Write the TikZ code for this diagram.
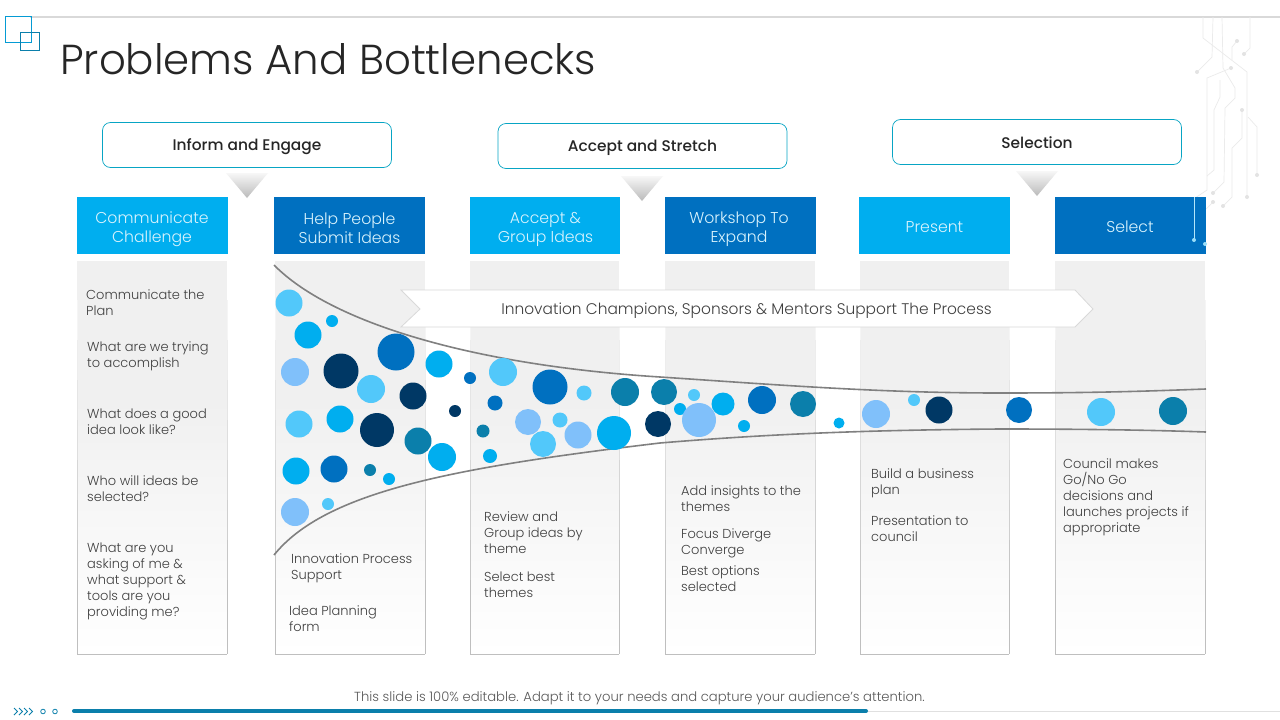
\documentclass[tikz,border=0pt]{standalone}
\usepackage{fontspec}
\setmainfont{Poppins}[UprightFont=* Light,BoldFont=* Medium]
\usetikzlibrary{shapes.geometric,shapes.arrows}
\definecolor{cyanA}{HTML}{00AEEF}
\definecolor{blueB}{HTML}{0070C0}
\definecolor{navy}{HTML}{003865}
\definecolor{teal}{HTML}{0B7FAB}
\definecolor{sky}{HTML}{52C8FA}
\definecolor{peri}{HTML}{80C0FA}
\definecolor{txt}{HTML}{404040}
\definecolor{wire}{HTML}{EBEBEB}
\definecolor{panelgrey}{HTML}{F0F0F0}
\newcommand\hsa{\rule{0pt}{20pt}}
\newcommand\hsb{\rule[-4pt]{0pt}{4pt}}
\tikzset{
 x=1pt,y=-1pt,
 head/.style={rectangle,minimum width=151pt,minimum height=57pt,inner sep=0pt},
 headtext/.style={inner sep=0pt,align=center,text=white!85!cyan,font=\fontsize{15.7}{19}\selectfont},
 pill/.style={draw=teal!70!cyan,line width=.7pt,rounded corners=8pt,fill=white,minimum width=289pt,minimum height=45pt,inner sep=0pt},
 pilltext/.style={inner sep=0pt,font=\bfseries\fontsize{15.4}{18}\selectfont,text=black!85},
 body/.style={align=left,anchor=north west,inner sep=0pt,yshift=-2.5pt,text=txt,font=\fontsize{13}{16}\selectfont},
 curve/.style={draw=black!50,line width=1.6pt},
 wireline/.style={draw=wire,line width=.7pt},
}
\begin{document}
\begin{tikzpicture}
\useasboundingbox (0,0) rectangle (1280,720);
\fill[white] (0,0) rectangle (1280,720);
% top rule
\draw[black!15,line width=1.4pt] (30,17) -- (1280,17);
% logo
\draw[cyanA!60!teal,line width=1pt] (5,16.5) rectangle (31,42);
\draw[teal,line width=1pt] (20.5,32) rectangle (39,50.5);
% title
\node[anchor=west,inner sep=0pt,text=black!85,font=\fontsize{41.9}{46}\selectfont] (title) at (60,59) {Problems And Bottlenecks};
% circuit decoration
\draw[wireline] (1203,17) -- (1203,38) -- (1247,72) -- (1247,197);
\draw[wireline] (1213,17) -- (1212,57) -- (1197,72);
\draw[wireline] (1222,17) -- (1223,68) -- (1235,88) -- (1235,98) -- (1225,108) -- (1224,182) -- (1213,193);
\draw[wireline] (1250,17) -- (1250,48) -- (1244,54);
\draw[wireline] (1237,41) -- (1232,47) -- (1232,60);
\draw[wireline] (1231,68) -- (1207,78) -- (1207,190) -- (1195,198);
\draw[wireline] (1220,80) -- (1220,97) -- (1214,110) -- (1214,170) -- (1207,176);
\draw[wireline] (1242,110) -- (1242,138) -- (1232,148) -- (1232,197) -- (1223,206);
\draw[wireline] (1248,117) -- (1257,127) -- (1257,175);
\draw[wireline] (1213,202) -- (1206,209);
\foreach \p in {(1237,41),(1244,54),(1197,72),(1231,68),(1242,110),(1257,175),(1247,197),(1213,193),(1223,206),(1213,202)}
  \fill[black!11] \p circle (2pt);
% pills
\node[pill] (p1) at (247,145) {};
\node[pill] (p2) at (642.5,146) {};
\node[pill] (p3) at (1037,142) {};
\node[pilltext] (pt1) at (247,147) {Inform and Engage};
\node[pilltext] (pt2) at (642.5,148) {Accept and Stretch};
\node[pilltext] (pt3) at (1037,143) {Selection};
% triangles
\foreach \x/\y in {247/173,642/176,1037/171}
  \shade[top color=black!3,bottom color=black!27] (\x-21,\y) -- (\x+21,\y) -- (\x,\y+25) -- cycle;
% panels
\foreach \x/\w in {77/150,275/150,470/149,665/150,860/149,1055/150}{
  \fill[panelgrey] (\x,261) rectangle (\x+\w,400);
  \shade[top color=panelgrey,bottom color=white] (\x,400) rectangle (\x+\w,654);
  \foreach \ya/\yb/\g in {300/340/4,340/380/7,380/420/10,420/460/13,460/500/16,500/540/19,540/580/22,580/654/25}{
    \draw[black!\g,line width=.9pt] (\x,\ya) -- (\x,\yb);
    \draw[black!\g,line width=.9pt] (\x+\w,\ya) -- (\x+\w,\yb);
  }
  \draw[black!25,line width=.9pt] (\x,654) -- (\x+\w,654);
}
% heads
\node[head,fill=cyanA]  (h1) at (152,225.5) {};
\node[head,fill=blueB]  (h2) at (349.5,225.5) {};
\node[head,fill=cyanA,minimum width=150pt]  (h3) at (545,225.5) {};
\node[head,fill=blueB]  (h4) at (740,225.5) {};
\node[head,fill=cyanA]  (h5) at (934.5,225.5) {};
\node[head,fill=blueB]  (h6) at (1130.5,225.5) {};
\node[headtext] (ht1) at (152,225.5) {\hsa Communicate\\Challenge\hsb};
\node[headtext] (ht2) at (349.5,225.5) {\hsa Help People\\Submit Ideas\hsb};
\node[headtext] (ht3) at (545.5,225.5) {\hsa Accept \&\\Group Ideas\hsb};
\node[headtext] (ht4) at (739,225.5) {\hsa Workshop To\\Expand\hsb};
\node[headtext] (ht5) at (934.5,227) {Present};
\node[headtext] (ht6) at (1130,227) {Select};
\draw[white!70!cyan,line width=.6pt] (1194,197) -- (1194,240);
\fill[white!60!cyan] (1194,240) circle (2pt);
\fill[white!60!cyan] (1205,244) circle (2pt);
% arrow banner
\path[fill=white,draw=black!15,line width=.8pt] (401,290) -- (1075,290) -- (1093,309) -- (1075,327) -- (401,327) -- (420,309) -- cycle;
\node[inner sep=0pt,text=txt,font=\fontsize{15.4}{19}\selectfont] (banner) at (746.5,311) {Innovation Champions, Sponsors \& Mentors Support The Process};
% curves
\draw[curve] (274,265) .. controls (330,322) and (470,365) .. (660,377) .. controls (780,385) and (880,393) .. (1000,393) .. controls (1100,393) and (1150,391) .. (1206,389);
\draw[curve] (274,555) .. controls (325,492) and (450,468) .. (660,443) .. controls (780,433) and (880,430) .. (1000,429) .. controls (1080,429) and (1150,430) .. (1206,432);
% bubbles
\foreach \x/\y/\r/\c in {
289/303/13.5/sky,332/321/6/cyanA,308/335/13.5/cyanA,396/352/18.5/blueB,295/372/14/peri,341/371/17.5/navy,371/389/14/sky,439/364/13.5/cyanA,413/396/13.5/navy,470/378/6/blueB,455/411/6/navy,299/424/13.5/sky,340/419/13.5/cyanA,377/430/17/navy,418/441/13.5/teal,442/457/14/cyanA,296/471/13.5/cyanA,334/469/13.5/blueB,370/470/6/teal,389/479/6/cyanA,295/512/14/peri,328/504/6/sky,
503/372/14/sky,495/403/7.5/blueB,550/387/17.5/blueB,584/393/7.5/sky,528/422/13/peri,483/431/6.5/teal,560/420/7.5/sky,543/444/13/sky,578/435/13.5/peri,490/456/7/cyanA,614/433/17/cyanA,
625/392/14/teal,664/392/13/teal,694/395/6/sky,658/424/13/navy,680/409/6/cyanA,699/420/17/peri,723/404/11.5/cyanA,744/426/6/cyanA,762/400/14/blueB,803/404/13/teal,839/423/5.5/cyanA,
876/414/14/peri,914/400/6/sky,939/410/13.5/navy,1019/410/13/blueB,1101/412/14/sky,1173/411/14/teal}
  \fill[\c] (\x,\y) circle (\r);
% body texts
\node[body] (t11) at (86,287) {Communicate the\\Plan};
\node[body] (t12) at (87,339) {What are we trying\\to accomplish};
\node[body] (t13) at (87,406) {What does a good\\idea look like?};
\node[body] (t14) at (87,473) {Who will ideas be\\selected?};
\node[body] (t15) at (87,540) {What are you\\asking of me \&\\what support \&\\tools are you\\providing me?};
\node[body] (t21) at (291,551) {Innovation Process\\Support};
\node[body] (t22) at (289,603) {Idea Planning\\form};
\node[body] (t31) at (484,509) {Review and\\Group ideas by\\theme};
\node[body] (t32) at (484,569) {Select best\\themes};
\node[body] (t41) at (681,483) {Add insights to the\\themes};
\node[body] (t42) at (681,526) {Focus Diverge\\Converge};
\node[body] (t43) at (681,563) {Best options\\selected};
\node[body] (t51) at (871,466) {Build a business\\plan};
\node[body] (t52) at (871,513) {Presentation to\\council};
\node[body] (t61) at (1063,456) {Council makes\\Go/No Go\\decisions and\\launches projects if\\appropriate};
% footer
\node[inner sep=0pt,text=black!65,font=\fontsize{13.15}{15}\selectfont] (foot) at (639.5,698) {This slide is 100\% editable. Adapt it to your needs and capture your audience's attention.};
\draw[black!12,line width=.8pt] (868,711.5) -- (1280,711.5);
\draw[teal,line width=4pt,line cap=round] (74,711) -- (866,711);
\foreach \x in {14,19,24,29}
  \draw[teal,line width=.8pt] (\x,708) -- (\x+3.5,711.5) -- (\x,715);
\draw[teal,line width=.8pt] (43,711.5) circle (2.3);
\draw[teal,line width=.8pt] (55,711.5) circle (2.3);
\end{tikzpicture}
\end{document}
